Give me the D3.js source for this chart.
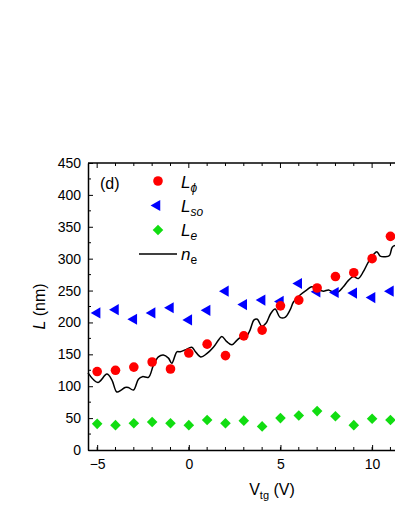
<!DOCTYPE html>
<html>
<head>
<meta charset="utf-8">
<script src="https://cdn.jsdelivr.net/npm/d3@7"></script>
<style>
  body { margin: 0; background: #fff; }
  svg { display: block; font-family: "Liberation Sans", Arial, sans-serif; }
</style>
</head>
<body>
<div id="chart"></div>
<script>
var svgWidth = 395;
var svgHeight = 511;

// data
var vtg = [-5, -4, -3, -2, -1, 0, 1, 2, 3, 4, 5, 6, 7, 8, 9, 10, 11];
var lPhi = [123, 125, 130, 138, 127, 152, 166, 148, 179, 188, 226, 235, 254, 272, 278, 300, 335];
var lSo = [215, 220, 205, 215, 223, 204, 219, 249, 228, 235, 233, 261, 248, 247, 246, 239, 249];
var lE = [41, 39, 42, 44, 42, 39, 47, 42, 46, 37, 50, 54, 61, 53, 39, 49, 47];

var neX = [-5.5, -4.96, -4.47, -4.2, -3.93, -3.69, -3.48, -3.3, -3.02, -2.75, -2.53, -2.2, -1.93, -1.66, -1.39,
  -1.11, -0.93, -0.65, -0.47, -0.2, 0.16, 0.34, 0.65, 0.98, 1.34, 1.61, 1.8, 2.07, 2.35, 2.62, 2.89, 3.16,
  3.34, 3.56, 3.74, 3.98, 4.22, 4.47, 4.71, 4.98, 5.25, 5.53, 5.71, 6.07, 6.44, 6.71, 6.98, 7.34, 7.62,
  7.89, 8.16, 8.43, 8.71, 8.98, 9.25, 9.53, 9.8, 10.07, 10.26, 10.44, 10.71, 10.95, 11.1, 11.3];
var neY = [121, 106, 119, 110, 91, 94, 98, 98, 94, 111, 115, 114, 133, 146, 149,
  144, 136, 154, 154, 157, 161, 155, 146, 151, 161, 172, 178, 170, 165, 172, 178, 179,
  188, 204, 205, 194, 199, 214, 221, 208, 208, 220, 232, 243, 251, 256, 253, 249, 251,
  247, 248, 256, 266, 272, 269, 280, 295, 306, 311, 304, 303, 305, 318, 321];

var xTicks = [-5, 0, 5, 10];
var yTicks = [0, 50, 100, 150, 200, 250, 300, 350, 400, 450];

var plotLeft = 88, plotTop = 163, plotBottom = 450;

var svg = d3.select("#chart")
    .append("svg")
    .attr("width", svgWidth)
    .attr("height", svgHeight);

var x = d3.scaleLinear()
    .domain([-5.5, 11.5])
    .range([plotLeft, plotLeft + 17 * 18.33]);

var y = d3.scaleLinear()
    .domain([0, 450])
    .range([plotBottom, plotTop]);

var plotRight = x(11.5);

// axes (ticks pointing inward)
var bottomAxis = d3.axisBottom(x).tickValues(xTicks).tickSizeInner(-5).tickSizeOuter(0).tickPadding(9);
var leftAxis = d3.axisLeft(y).tickValues(yTicks).tickSizeInner(-5).tickSizeOuter(0).tickPadding(7);

var gx = svg.append("g")
    .attr("transform", `translate(0, ${plotBottom})`)
    .call(bottomAxis);
var gy = svg.append("g")
    .attr("transform", `translate(${plotLeft}, 0)`)
    .call(leftAxis);

// minor ticks
svg.append("g")
    .selectAll("line")
    .data(d3.range(-5, 12))
    .enter()
    .append("line")
    .attr("x1", d => x(d)).attr("x2", d => x(d))
    .attr("y1", plotBottom).attr("y2", plotBottom - 3)
    .attr("stroke", "#000").attr("stroke-width", 1);
svg.append("g")
    .selectAll("line")
    .data(d3.range(-5, 12))
    .enter()
    .append("line")
    .attr("x1", d => x(d)).attr("x2", d => x(d))
    .attr("y1", plotTop).attr("y2", d => plotTop + (d % 5 === 0 ? 5 : 3))
    .attr("stroke", "#000").attr("stroke-width", 1);
svg.append("g")
    .selectAll("line")
    .data(d3.range(25, 450, 50))
    .enter()
    .append("line")
    .attr("x1", plotLeft).attr("x2", plotLeft + 3)
    .attr("y1", d => y(d)).attr("y2", d => y(d))
    .attr("stroke", "#000").attr("stroke-width", 1);

// top frame line
svg.append("line")
    .attr("x1", plotLeft).attr("x2", plotRight)
    .attr("y1", plotTop).attr("y2", plotTop)
    .attr("stroke", "#000").attr("stroke-width", 1.5);

[gx, gy].forEach(function(g) {
    g.select(".domain").attr("stroke-width", 1.5);
    g.selectAll(".tick line").attr("stroke-width", 1);
    g.selectAll(".tick text")
        .attr("font-size", "14px")
        .attr("fill", "#000")
        .style("font-family", "'Liberation Sans', Arial, sans-serif");
});

// n_e line
var line = d3.line()
    .x(d => x(d[0]))
    .y(d => y(d[1]))
    .curve(d3.curveCatmullRom);

svg.append("path")
    .datum(neX.map((v, i) => [v, neY[i]]))
    .attr("d", line)
    .attr("fill", "none")
    .attr("stroke", "#000")
    .attr("stroke-width", 1.5);

// markers
var tri = d3.symbol().type(d3.symbolTriangle).size(54);
var dia = d3.symbol().type(d3.symbolSquare).size(56);

svg.append("g")
    .selectAll("path")
    .data(vtg)
    .enter()
    .append("path")
    .attr("d", tri)
    .attr("transform", (d, i) => `translate(${x(d)}, ${y(lSo[i])}) rotate(-90)`)
    .attr("fill", "#0000ff");

svg.append("g")
    .selectAll("path")
    .data(vtg)
    .enter()
    .append("path")
    .attr("d", dia)
    .attr("transform", (d, i) => `translate(${x(d)}, ${y(lE[i])}) rotate(45)`)
    .attr("fill", "#11dd11");

svg.append("g")
    .selectAll("circle")
    .data(vtg)
    .enter()
    .append("circle")
    .attr("cx", d => x(d))
    .attr("cy", (d, i) => y(lPhi[i]))
    .attr("r", 4.8)
    .attr("fill", "#ff0000");

// panel label
svg.append("text")
    .attr("x", 100).attr("y", 189)
    .attr("font-size", "16px")
    .text("(d)");

// legend
var lg = svg.append("g");
lg.append("circle").attr("cx", 158).attr("cy", 181).attr("r", 4.8).attr("fill", "#ff0000");
lg.append("path").attr("d", tri).attr("transform", "translate(157, 205.5) rotate(-90)").attr("fill", "#0000ff");
lg.append("path").attr("d", dia).attr("transform", "translate(158, 230) rotate(45)").attr("fill", "#11dd11");
lg.append("line").attr("x1", 139).attr("x2", 177).attr("y1", 254).attr("y2", 254)
    .attr("stroke", "#000").attr("stroke-width", 1.5);

var legendText = [
    {main: "L", sub: "\u03d5", y: 188},
    {main: "L", sub: "so", y: 212},
    {main: "L", sub: "e", y: 236},
    {main: "n", sub: "e", y: 260}
];
legendText.forEach(function(t, i) {
    var tx = lg.append("text").attr("x", 181).attr("y", t.y).attr("font-size", "17px");
    tx.append("tspan").attr("font-style", "italic").text(t.main);
    tx.append("tspan").attr("font-size", "12px").attr("dy", 4)
        .attr("font-style", i === 3 ? "normal" : "italic").text(t.sub);
});

// axis labels
var xl = svg.append("text")
    .attr("x", 272).attr("y", 495)
    .attr("text-anchor", "middle")
    .attr("font-size", "16px");
xl.append("tspan").text("V");
xl.append("tspan").attr("font-size", "11px").attr("dy", 4).text("tg");
xl.append("tspan").attr("dy", -4).text(" (V)");

var yl = svg.append("text")
    .attr("transform", `translate(45, ${(plotTop + plotBottom) / 2}) rotate(-90)`)
    .attr("text-anchor", "middle")
    .attr("font-size", "16px");
yl.append("tspan").attr("font-style", "italic").text("L");
yl.append("tspan").text(" (nm)");
</script>
</body>
</html>
